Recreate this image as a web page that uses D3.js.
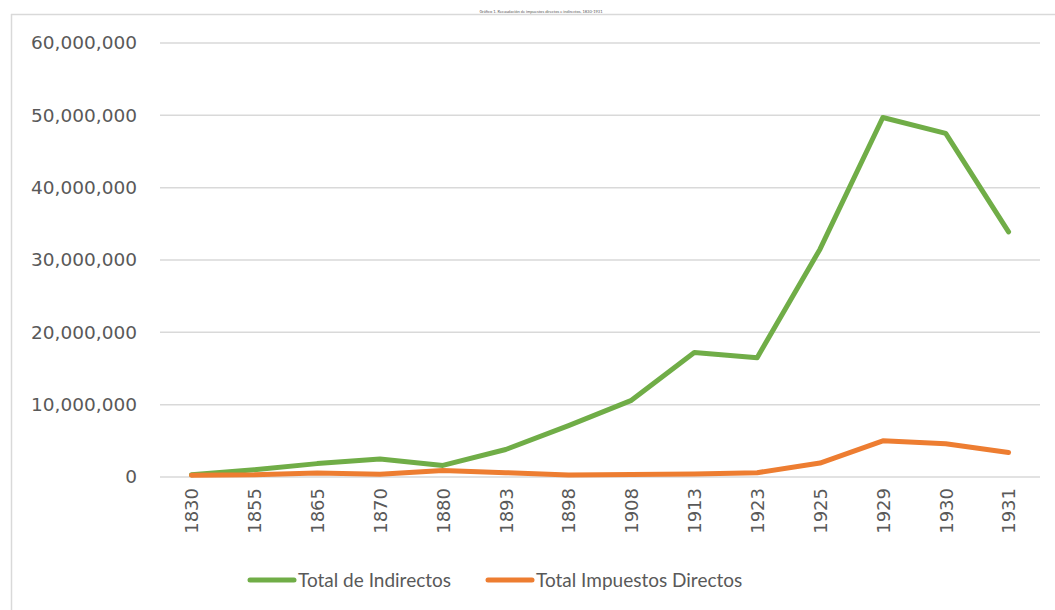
<!DOCTYPE html>
<html>
<head>
<meta charset="utf-8">
<script src="https://cdn.jsdelivr.net/npm/d3@7"></script>
<style>
  body { margin: 0; background: #fff; }
  svg { display: block; }
</style>
</head>
<body>
<svg id="chart" width="1055" height="610"></svg>
<script>
// Data
const years = ["1830", "1855", "1865", "1870", "1880", "1893", "1898", "1908", "1913", "1923", "1925", "1929", "1930", "1931"];
const indirectos = [300000, 1000000, 1850000, 2500000, 1600000, 3800000, 7100000, 10600000, 17200000, 16500000, 31500000, 49700000, 47500000, 33900000];
const directos = [250000, 300000, 550000, 370000, 900000, 600000, 280000, 350000, 400000, 600000, 1930000, 5000000, 4600000, 3400000];
const yTicks = [0, 10000000, 20000000, 30000000, 40000000, 50000000, 60000000];
const seriesNames = ["Total de Indirectos", "Total Impuestos Directos"];
const colors = ["#70ad47", "#ed7d31"];

const svg = d3.select("#chart");
const margin = { top: 43, right: 15, bottom: 133, left: 160 };
const width = 1055 - margin.left - margin.right;
const height = 610 - margin.top - margin.bottom;
const font = "Lato, 'Open Sans', sans-serif";

// Chart frame (top and left edges only visible)
svg.append("line").attr("x1", 11).attr("x2", 1055).attr("y1", 14.5).attr("y2", 14.5)
  .attr("stroke", "#d9d9d9").attr("stroke-width", 1.5);
svg.append("line").attr("x1", 11.5).attr("x2", 11.5).attr("y1", 14).attr("y2", 610)
  .attr("stroke", "#d9d9d9").attr("stroke-width", 1.5);

// Tiny title
svg.append("text")
  .attr("x", 541).attr("y", 13)
  .attr("text-anchor", "middle")
  .style("font-family", font)
  .style("font-size", "4px")
  .style("fill", "#595959")
  .text("Gráfico 1. Recaudación de impuestos directos e indirectos, 1830-1931");

const g = svg.append("g").attr("transform", `translate(${margin.left},${margin.top})`);

const x = d3.scalePoint().domain(years).range([0, width]).padding(0.5);
const y = d3.scaleLinear().domain([0, 60000000]).range([height, 0]);

// Gridlines
g.append("g")
  .selectAll("line")
  .data(yTicks)
  .join("line")
  .attr("x1", 0).attr("x2", width)
  .attr("y1", (d) => y(d)).attr("y2", (d) => y(d))
  .attr("stroke", "#d9d9d9").attr("stroke-width", 1.5);

// Y axis labels
const yAxis = g.append("g")
  .call(d3.axisLeft(y).tickValues(yTicks).tickFormat(d3.format(",")).tickSize(0).tickPadding(23));
yAxis.select(".domain").remove();
yAxis.selectAll("text")
  .style("font-family", "'DejaVu Sans', sans-serif")
  .style("font-size", "18.5px")
  .style("fill", "#595959");

// X axis labels
const xAxis = g.append("g")
  .attr("transform", `translate(0,${height})`)
  .call(d3.axisBottom(x).tickSize(0).tickPadding(0));
xAxis.select(".domain").remove();
xAxis.selectAll("text")
  .attr("transform", "rotate(-90)")
  .attr("x", -11).attr("y", 0).attr("dy", "0.35em")
  .style("text-anchor", "end")
  .style("font-family", "'DejaVu Sans', sans-serif")
  .style("font-size", "18px")
  .style("fill", "#595959");

// Lines
const line = d3.line().x((d, i) => x(years[i])).y((d) => y(d));
[indirectos, directos].forEach((vals, k) => {
  g.append("path")
    .datum(vals)
    .attr("fill", "none")
    .attr("stroke", colors[k])
    .attr("stroke-width", 5)
    .attr("stroke-linecap", "round")
    .attr("stroke-linejoin", "round")
    .attr("d", line);
});

// Legend
const legendX = [248, 486];
seriesNames.forEach((name, k) => {
  const lg = svg.append("g").attr("transform", `translate(${legendX[k]},580)`);
  lg.append("line").attr("x1", 2).attr("x2", 46).attr("y1", 0).attr("y2", 0)
    .attr("stroke", colors[k]).attr("stroke-width", 5).attr("stroke-linecap", "round");
  lg.append("text")
    .attr("x", 50).attr("y", 0).attr("dy", "0.35em")
    .style("font-family", font)
    .style("font-size", "19px")
    .style("fill", "#595959")
    .text(name);
});
</script>
</body>
</html>
